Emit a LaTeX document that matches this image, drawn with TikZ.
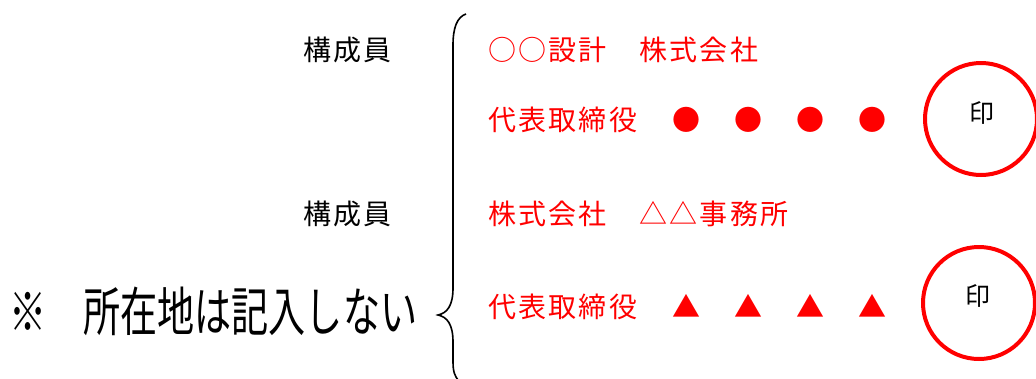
\documentclass[tikz,border=0pt]{standalone}
\usepackage{fontspec}
\newfontfamily\jp[LetterSpace=8]{Noto Sans CJK JP}
\newfontfamily\jpbig{Noto Sans CJK JP}
\definecolor{redc}{RGB}{255,0,0}
\begin{document}
\begin{tikzpicture}[x=1pt,y=-1pt,
  txt/.style={inner sep=0pt,anchor=west,font=\jp\fontsize{28}{30}\selectfont,text height=24.6pt,text depth=3.4pt},
  redtxt/.style={txt,text=redc},
  symb/.style={inner sep=0pt,font=\jpbig\fontsize{28}{30}\selectfont,text=redc,text height=24.6pt,text depth=3.4pt},
  seal/.style={circle,draw=redc,line width=4pt,minimum size=112pt,inner sep=0pt},
  sealtxt/.style={inner sep=0pt,font=\jpbig\fontsize{25}{27}\selectfont,text height=22pt,text depth=3pt}]
\useasboundingbox (0,0) rectangle (1036,378);
\fill[white] (0,0) rectangle (1036,378);
% left labels
\node[txt] (m1) at (303,50) {構成員};
\node[txt] (m2) at (303,214) {構成員};
% big note
\node[inner sep=0pt,anchor=west,xscale=0.7,font=\jpbig\fontsize{53}{56}\selectfont,text height=46.6pt,text depth=6.4pt] (note) at (9,311) {※　所在地は記入しない};
% brace
\draw[line width=1.6pt] (466,14) .. controls (457,17) and (453,28) .. (453,45) -- (453,288)
  .. controls (453,306) and (447,313) .. (438,315)
  .. controls (447,317) and (453,324) .. (453,342) -- (453,362)
  .. controls (453,372) and (455,376) .. (458,380);
% red text
\node[redtxt] (c1) at (488,50) {○○設計　株式会社};
\node[redtxt] (r1) at (488,120) {代表取締役};
\node[redtxt] (c2) at (488,214) {株式会社　△△事務所};
\node[redtxt] (r2) at (488,307) {代表取締役};
\foreach \x [count=\i] in {686,748,810,872}{
  \node[symb] (b\i) at (\x,120) {●};
  \node[symb] (t\i) at (\x,307) {▲};
}
% seals
\node[seal] (s1) at (981,119) {};
\node[sealtxt] at (982,113) {印};
\node[seal] (s2) at (979,303) {};
\node[sealtxt] at (978,296) {印};
\end{tikzpicture}
\end{document}
